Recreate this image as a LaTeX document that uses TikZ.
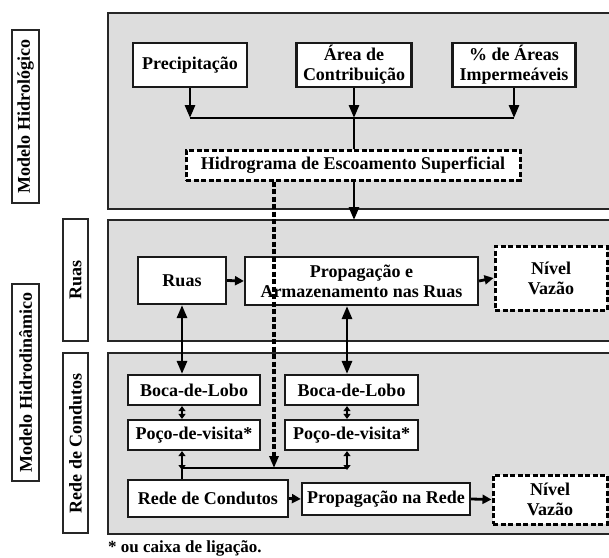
\documentclass[tikz,border=0pt]{standalone}
\usepackage{fontspec}
\setmainfont{Liberation Serif}
\usetikzlibrary{arrows.meta,calc}
\definecolor{panelgray}{RGB}{221,221,221}
\begin{document}
\begin{tikzpicture}[x=1pt,y=-1pt,
  every node/.style={font=\fontsize{18}{20}\selectfont\bfseries, inner sep=0pt, align=center},
  panel/.style={draw=black!85, line width=2.4pt, fill=panelgray},
  sidelbl/.style={draw=black!85, line width=2.2pt, fill=white, rotate=90, anchor=center},
  box/.style={draw=black!90, line width=2.2pt, fill=white},
  dbox/.style={draw=black, line width=3pt, fill=white, dash pattern=on 5pt off 2.5pt},
  arr/.style={line width=2.8pt, -{Triangle[length=13pt,width=10pt]}},
  darr/.style={line width=2.8pt, {Triangle[length=13pt,width=10pt]}-{Triangle[length=13pt,width=10pt]}},
  sarr/.style={line width=2.4pt, {Triangle[length=5pt,width=7pt]}-{Triangle[length=5pt,width=7pt]}},
  harr/.style={line width=2.8pt, -{Triangle[length=9pt,width=9pt]}},
  ln/.style={line width=2.8pt},
  dln/.style={line width=3.2pt, dash pattern=on 5pt off 2.5pt, -{Triangle[length=12pt,width=9pt]}}
]
\useasboundingbox (0,0) rectangle (609,557);
\clip (0,0) rectangle (609,557);

% panels
\draw[panel] (108,13) rectangle (614,209);
\draw[panel] (108,220) rectangle (614,341);
\draw[panel] (108,353) rectangle (614,534);

% side labels
\node[sidelbl, minimum width=173pt, minimum height=27pt] (lhid) at (25.5,116.5) {Modelo Hidrológico};
\node[sidelbl, minimum width=122pt, minimum height=25pt] (lruas) at (75.5,280) {Ruas};
\node[sidelbl, minimum width=197pt, minimum height=27pt] (lhdin) at (25.5,382.5) {Modelo Hidrodinâmico};
\node[sidelbl, minimum width=180pt, minimum height=25pt] (lrede) at (75.5,443) {Rede de Condutos};

% hydrologic boxes
\node[box, minimum width=114pt, minimum height=44pt] (prec) at (190,65) {Precipitação};
\node[box, minimum width=115pt, minimum height=44pt] (area) at (354,65) {Área de\\Contribuição};
\node[box, minimum width=123pt, minimum height=44pt] (imp) at (514,65) {\% de Áreas\\Impermeáveis};
\node[dbox, minimum width=334pt, minimum height=30pt] (hidro) at (353,165) {Hidrograma de Escoamento Superficial};

\coordinate (jp) at (190,118);
\coordinate (ja) at (354,118);
\coordinate (ji) at (514,118);
\draw[arr] (prec.south) -- (jp);
\draw[arr] (area.south) -- (ja);
\draw[arr] (imp.south) -- (ji);
\draw[ln] (jp) -- (ji);
\draw[ln] (ja) -- (hidro.north -| ja);
\coordinate (p2top) at (354,220);
\draw[arr] (hidro.south -| ja) -- (p2top);

% streets
\node[box, minimum width=88pt, minimum height=47pt] (ruas) at (182,280.5) {Ruas};
\node[box, minimum width=233pt, minimum height=48pt] (prop) at (361.5,281) {Propagação e\\Armazenamento nas Ruas};
\node[dbox, minimum width=112pt, minimum height=64pt] (niv1) at (551,278) {Nível\\Vazão};
\draw[harr] (ruas.east) -- (prop.west);
\draw[harr] (prop.east) -- (niv1.west);

% network
\node[box, minimum width=132pt, minimum height=30pt] (boca1) at (194,390) {Boca-de-Lobo};
\node[box, minimum width=132pt, minimum height=30pt] (poco1) at (194,435) {Poço-de-visita*};
\node[box, minimum width=133pt, minimum height=30pt] (boca2) at (351.5,390) {Boca-de-Lobo};
\node[box, minimum width=133pt, minimum height=30pt] (poco2) at (351.5,435) {Poço-de-visita*};
\node[box, minimum width=160pt, minimum height=37pt] (rede) at (208,498.5) {Rede de Condutos};
\node[box, minimum width=168pt, minimum height=32pt] (propr) at (386,499) {Propagação na Rede};
\node[dbox, minimum width=114pt, minimum height=49pt] (niv2) at (550,499.5) {Nível\\Vazão};

\coordinate (xa) at (182,0);
\coordinate (xb) at (347,0);
\coordinate (j1) at (182,468);
\coordinate (j2) at (347,468);
\coordinate (jd) at (274,468);

\draw[darr] (ruas.south) -- (boca1.north -| xa);
\draw[darr] (prop.south -| xb) -- (boca2.north -| xb);
\draw[sarr] (boca1.south -| xa) -- (poco1.north -| xa);
\draw[sarr] (boca2.south -| xb) -- (poco2.north -| xb);
\draw[sarr] (poco1.south -| xa) -- ([yshift=-2pt]j1);
\draw[sarr] (poco2.south -| xb) -- ([yshift=-2pt]j2);
\draw[ln] (j1) -- (j2);
\draw[ln] (j1) -- (rede.north -| xa);
\draw[dln] (hidro.south -| jd) -- (jd);

\draw[harr] (rede.east) -- (propr.west);
\draw[harr] (propr.east) -- (niv2.west);

\node[anchor=west, font=\fontsize{17}{19}\selectfont\bfseries] (foot) at (108,548) {* ou caixa de ligação.};
\end{tikzpicture}
\end{document}
